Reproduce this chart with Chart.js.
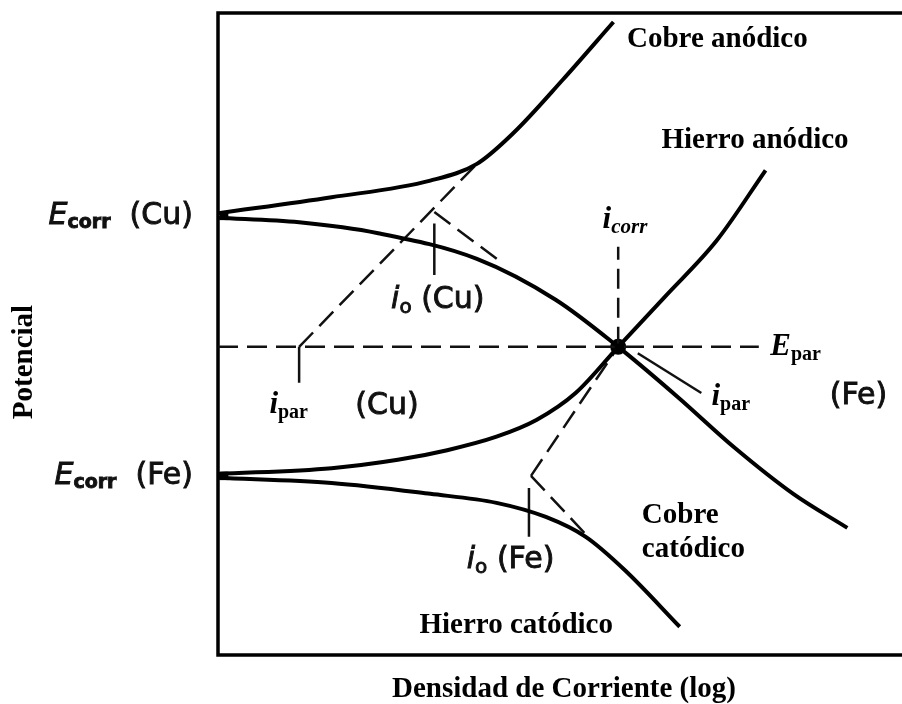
<!DOCTYPE html>
<html>
<head>
<meta charset="utf-8">
<script src="https://cdn.jsdelivr.net/npm/chart.js@4/dist/chart.umd.min.js"></script>
<style>
  body { margin: 0; background: #fff; }
  canvas { display: block; background: #fff; }
</style>
</head>
<body>
<canvas id="evans" width="902" height="704"></canvas>
<script>
// Diagrama de Evans: par galvanico Cu / Fe
// eje x: log densidad de corriente (0..100), eje y: potencial (0..100)

const cuAnodicoX = [0, 16.8, 31.4, 38.3, 43.7, 51.0, 58.5];
const cuAnodicoY = [68.8, 71.3, 73.9, 76.5, 81.3, 89.6, 98.6];

const cuCatodicoX = [0, 12.0, 23.7, 38.3, 50.0, 59.2, 68.0, 76.3, 85.1, 93.1];
const cuCatodicoY = [68.1, 67.4, 65.7, 61.7, 55.3, 48.0, 40.2, 32.4, 25.1, 19.8];

const feAnodicoX = [0, 16.8, 26.6, 33.9, 41.2, 47.1, 52.9, 59.2, 66.1, 73.8, 81.0];
const feAnodicoY = [28.2, 29.1, 30.4, 31.9, 34.0, 36.6, 40.8, 48.0, 55.8, 64.6, 75.5];

const feCatodicoX = [0, 16.8, 31.4, 41.2, 48.5, 54.4, 60.2, 68.3];
const feCatodicoY = [27.6, 26.8, 25.1, 23.7, 21.5, 18.4, 13.2, 4.4];

// potenciales de corrosion y punto del par
const eCorrCu = 68.4;
const eCorrFe = 27.9;
const iCorr = 59.2;
const ePar = 48.0;

// extrapolaciones de Tafel (trazos)
const tafelCuAnX = [12.0, 38.3];
const tafelCuAnY = [48.0, 76.5];
const tafelCuCatX = [32.0, 42.0];
const tafelCuCatY = [69.0, 61.1];
const tafelFeAnX = [46.3, 59.2];
const tafelFeAnY = [27.9, 48.0];
const tafelFeCatX = [46.3, 54.4];
const tafelFeCatY = [27.9, 18.8];
const eParX = [0, 80.0];
const iCorrY = [48.0, 63.6];

// marcas verticales i_o, i_par
const ioCu = 32.0, ioCuY = [67.2, 59.2];
const ioFe = 46.0, ioFeY = [26.0, 18.4];
const iParCu = 12.0, iParCuY = [48.0, 42.4];
const iParFeX = [62.1, 71.5];
const iParFeY = [47.0, 40.8];

const SERIF = '"Liberation Serif", "Times New Roman", serif';
const SANS = '"DejaVu Sans", sans-serif';

function puntos(xs, ys) {
  return xs.map((x, i) => ({ x: x, y: ys[i] }));
}

function curva(xs, ys) {
  return {
    data: puntos(xs, ys),
    showLine: true,
    borderColor: '#000',
    borderWidth: 4,
    pointRadius: 0,
    cubicInterpolationMode: 'monotone'
  };
}

function trazo(xs, ys) {
  return {
    data: puntos(xs, ys),
    showLine: true,
    borderColor: '#111',
    borderWidth: 2.5,
    borderDash: [20, 9],
    pointRadius: 0
  };
}

function marca(xs, ys) {
  return {
    data: puntos(xs, ys),
    showLine: true,
    borderColor: '#111',
    borderWidth: 2.5,
    pointRadius: 0
  };
}

// texto con subindices; grueso > 0 repasa el contorno
function dibujarTexto(ctx, x, y, partes, align, grueso) {
  let ancho = 0;
  for (const p of partes) {
    ctx.font = p.f;
    ancho += ctx.measureText(p.t).width;
  }
  let cx = x;
  if (align === 'right') cx = x - ancho;
  if (align === 'center') cx = x - ancho / 2;
  for (const p of partes) {
    ctx.font = p.f;
    ctx.fillText(p.t, cx, y + (p.dy || 0));
    if (grueso) {
      ctx.lineWidth = grueso;
      ctx.strokeText(p.t, cx, y + (p.dy || 0));
    }
    cx += ctx.measureText(p.t).width;
  }
}

const marco = {
  id: 'marco',
  beforeDatasetsDraw(chart) {
    const { ctx, chartArea: a } = chart;
    ctx.save();
    ctx.strokeStyle = '#000';
    ctx.lineWidth = 3.5;
    ctx.beginPath();
    ctx.moveTo(chart.width, a.top);
    ctx.lineTo(a.left, a.top);
    ctx.lineTo(a.left, a.bottom);
    ctx.lineTo(chart.width, a.bottom);
    ctx.stroke();
    ctx.restore();
  }
};

const etiquetas = {
  id: 'etiquetas',
  afterDatasetsDraw(chart) {
    const ctx = chart.ctx;
    const sx = chart.scales.x, sy = chart.scales.y;
    const px = v => sx.getPixelForValue(v);
    const py = v => sy.getPixelForValue(v);
    const negrita = 'bold 29px ' + SERIF;
    const it = 'italic bold 31px ' + SERIF;
    const sub = 'bold 20px ' + SERIF;
    const itSub = 'italic bold 21px ' + SERIF;
    const sans = '30px ' + SANS;
    const sansIt = 'oblique 30px ' + SANS;
    const sansSub = 'bold 19px ' + SANS;
    const sansO = '20px ' + SANS;

    ctx.save();
    ctx.fillStyle = '#000';
    ctx.strokeStyle = '#000';
    ctx.textBaseline = 'alphabetic';

    dibujarTexto(ctx, px(60.5), py(94.7), [{ t: 'Cobre anódico', f: negrita }]);
    dibujarTexto(ctx, px(65.6), py(79.0), [{ t: 'Hierro anódico', f: negrita }]);
    dibujarTexto(ctx, px(62.7), py(20.6), [{ t: 'Cobre', f: negrita }]);
    dibujarTexto(ctx, px(62.7), py(15.3), [{ t: 'catódico', f: negrita }]);
    dibujarTexto(ctx, px(29.8), py(3.4), [{ t: 'Hierro catódico', f: negrita }]);

    dibujarTexto(ctx, px(60.2), py(66.5), [
      { t: 'i', f: it }, { t: 'corr', f: itSub, dy: 5 }
    ], 'center');
    dibujarTexto(ctx, px(81.7), py(46.7), [
      { t: 'E', f: it }, { t: 'par', f: sub, dy: 5 }
    ]);
    dibujarTexto(ctx, px(73.0), py(38.9), [
      { t: 'i', f: it }, { t: 'par', f: sub, dy: 5 }
    ]);
    dibujarTexto(ctx, px(7.6), py(37.7), [
      { t: 'i', f: it }, { t: 'par', f: sub, dy: 5 }
    ]);

    ctx.fillStyle = '#111';
    ctx.strokeStyle = '#111';
    ctx.textBaseline = 'middle';
    dibujarTexto(ctx, px(90.5), py(40.3), [{ t: '(Fe)', f: sans }], 'left', 0.9);
    dibujarTexto(ctx, px(20.3), py(38.8), [{ t: '(Cu)', f: sans }], 'left', 0.9);
    dibujarTexto(ctx, px(25.6), py(55.3), [
      { t: 'i', f: sansIt }, { t: 'o', f: sansO, dy: 8 }, { t: ' (Cu)', f: sans }
    ], 'left', 0.9);
    dibujarTexto(ctx, px(36.8), py(14.8), [
      { t: 'i', f: sansIt }, { t: 'o', f: sansO, dy: 8 }, { t: ' (Fe)', f: sans }
    ], 'left', 0.9);
    dibujarTexto(ctx, px(-3.7), py(eCorrCu), [
      { t: 'E', f: sansIt }, { t: 'corr', f: sansSub, dy: 7 }, { t: '  (Cu)', f: sans }
    ], 'right', 0.9);
    dibujarTexto(ctx, px(-3.7), py(eCorrFe), [
      { t: 'E', f: sansIt }, { t: 'corr', f: sansSub, dy: 7 }, { t: '  (Fe)', f: sans }
    ], 'right', 0.9);

    // titulos de los ejes
    ctx.fillStyle = '#000';
    ctx.textAlign = 'center';
    ctx.textBaseline = 'alphabetic';
    ctx.font = negrita;
    ctx.fillText('Densidad de Corriente (log)', 564, 697);
    ctx.translate(32, 362);
    ctx.rotate(-Math.PI / 2);
    ctx.fillText('Potencial', 0, 0);
    ctx.restore();
  }
};

new Chart(document.getElementById('evans'), {
  type: 'scatter',
  data: {
    datasets: [
      curva(cuAnodicoX, cuAnodicoY),
      curva(cuCatodicoX, cuCatodicoY),
      curva(feAnodicoX, feAnodicoY),
      curva(feCatodicoX, feCatodicoY),
      trazo(eParX, [ePar, ePar]),
      trazo([iCorr, iCorr], iCorrY),
      trazo(tafelCuAnX, tafelCuAnY),
      trazo(tafelCuCatX, tafelCuCatY),
      trazo(tafelFeAnX, tafelFeAnY),
      trazo(tafelFeCatX, tafelFeCatY),
      marca([ioCu, ioCu], ioCuY),
      marca([ioFe, ioFe], ioFeY),
      marca([iParCu, iParCu], iParCuY),
      marca(iParFeX, iParFeY),
      {
        data: [{ x: 0.9, y: eCorrCu }, { x: 0.9, y: eCorrFe }],
        pointStyle: 'rect',
        pointRadius: 6,
        backgroundColor: '#000',
        borderWidth: 0
      },
      {
        data: [{ x: iCorr, y: ePar }],
        pointStyle: 'circle',
        pointRadius: 8,
        backgroundColor: '#000',
        borderWidth: 0
      }
    ]
  },
  options: {
    responsive: false,
    animation: false,
    layout: { padding: { left: 218, top: 13, right: 0, bottom: 49 } },
    plugins: { legend: { display: false }, tooltip: { enabled: false } },
    scales: {
      x: { type: 'linear', min: 0, max: 100, display: false },
      y: { type: 'linear', min: 0, max: 100, display: false }
    }
  },
  plugins: [marco, etiquetas]
});
</script>
</body>
</html>
